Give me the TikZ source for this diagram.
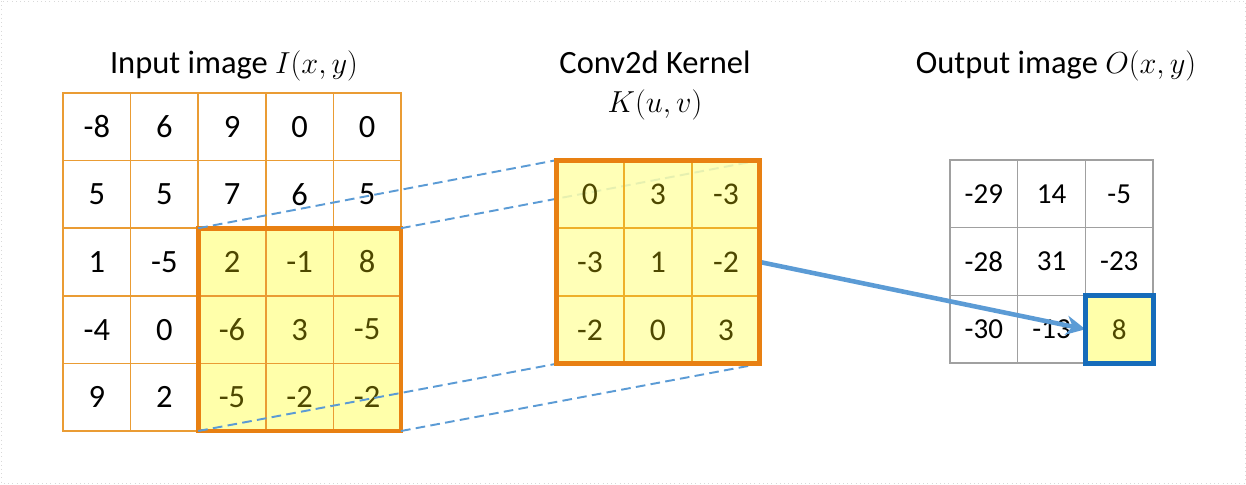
\documentclass[tikz,border=0pt]{standalone}
\usepackage{fontspec}
\setmainfont{Carlito}
\usepackage{tikz}
\usetikzlibrary{arrows.meta, positioning}
\definecolor{gridorange}{RGB}{234,156,52}
\definecolor{boxorange}{RGB}{232,128,18}
\definecolor{cellyellow}{RGB}{255,255,170}
\definecolor{celltext}{RGB}{78,72,0}
\definecolor{outgray}{RGB}{160,160,160}
\definecolor{linkblue}{RGB}{91,155,213}
\definecolor{outblue}{RGB}{22,108,186}
\def\cellsep{67.6}
\pgfdeclarelayer{front}
\pgfsetlayers{main,front}

\begin{document}
\begin{tikzpicture}[x=0.02cm, y=-0.02cm]
    \tikzstyle{cell}=[draw, line width=0.8pt, minimum size=1.352cm, inner sep=0pt, outer sep=0pt]
    \tikzstyle{input cell}=[cell, draw=gridorange, font=\fontsize{18.5}{20}\selectfont];
    \tikzstyle{kernel cell}=[cell, draw=gridorange!80!yellow, fill=cellyellow, fill opacity=0.85, text opacity=1, text=celltext, font=\fontsize{18}{20}\selectfont];
    \tikzstyle{output cell}=[cell, draw=outgray, font=\fontsize{16.5}{19}\selectfont];
    \tikzstyle{hot box}=[draw=boxorange, line width=2.8pt];
    \tikzstyle{link}=[draw=linkblue, line width=1.1pt, dash pattern=on 5.5pt off 3pt];
    \tikzstyle{title}=[anchor=base, font=\fontsize{18.5}{22}\selectfont];

    \useasboundingbox (0,0) rectangle (1246,484);
    \draw[black!15, line width=0.4pt, dotted] (1,1) rectangle (1245,483);

    % Draw the input image cells
    \foreach \r / \vals in {1/{-8,6,9,0,0}, 2/{5,5,7,6,5}, 3/{1,-5,2,-1,8}, 4/{-4,0,-6,3,-5}, 5/{9,2,-5,-2,-2}}
        \foreach \v [count=\c] in \vals {
            \pgfmathtruncatemacro\hot{(\r>2)*(\c>2)}
            \ifnum\hot=1 \def\cfill{cellyellow}\def\ctext{celltext}\else \def\cfill{white}\def\ctext{black}\fi
            \node[input cell, fill=\cfill, text=\ctext] (I-\r-\c) at (63+\cellsep*\c-\cellsep/2, 93+\cellsep*\r-\cellsep/2) {\v};
        }
    \draw[hot box] (I-3-3.north west) rectangle (I-5-5.south east);

    % Draw the kernel cells
    \begin{pgfonlayer}{front}
    \foreach \r / \vals in {1/{0,3,-3}, 2/{-3,1,-2}, 3/{-2,0,3}}
        \foreach \v [count=\c] in \vals
            \node[kernel cell] (K-\r-\c) at (556+68*\c-34, 160+68*\r-34) {\v};
    \draw[hot box] (K-1-1.north west) rectangle (K-3-3.south east);
    \end{pgfonlayer}

    % Draw the output image cells
    \foreach \r / \vals in {1/{-29,14,-5}, 2/{-28,31,-23}, 3/{-30,-13,8}}
        \foreach \v [count=\c] in \vals {
            \pgfmathtruncatemacro\hot{(\r==3)*(\c==3)}
            \ifnum\hot=1 \def\cfill{cellyellow}\def\ctext{celltext}\else \def\cfill{white}\def\ctext{black}\fi
            \node[output cell, fill=\cfill, text=\ctext] (O-\r-\c) at (950+67.7*\c-33.85, 160+67.7*\r-33.85) {\v};
        }

    % Connect the window corners with the kernel corners
    \foreach \a / \b in {I-3-3.north west/K-1-1.north west, I-3-5.north east/K-1-3.north east,
                         I-5-3.south west/K-3-1.south west, I-5-5.south east/K-3-3.south east}
        \path[link] (\a) -- (\b);

    % Kernel result goes to the output pixel
    \draw[linkblue, line width=2.6pt, -{Stealth[length=11pt, width=11pt]}] (K-2-3.east) -- (O-3-3.west);
    \draw[outblue, line width=2.8pt] (O-3-3.north west) rectangle (O-3-3.south east);

    % Titles
    \node[title] (tI) at (234,73) {Input image $I(x,y)$};
    \node[title] (tK) at (655,73) {Conv2d Kernel};
    \node[title] (tKuv) at (655,112) {$K(u,v)$};
    \node[title] (tO) at (1056,73) {Output image $O(x,y)$};

\end{tikzpicture}
\end{document}
